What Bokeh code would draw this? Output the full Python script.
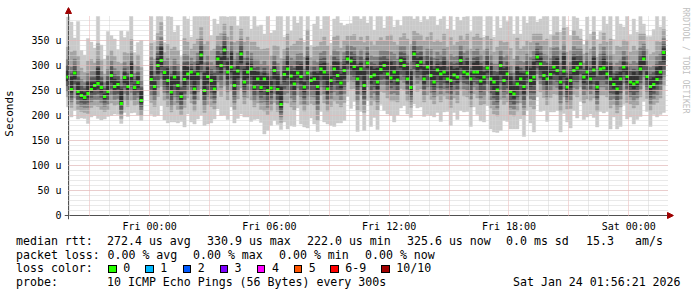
import math
from datetime import datetime, timedelta
from bokeh.plotting import figure
from bokeh.models import (Range1d, FixedTicker, DatetimeTickFormatter, Arrow, NormalHead,
                          Span, Title, Div)
from bokeh.layouts import column
from bokeh.embed import file_html
from bokeh.resources import INLINE

NAN = float("nan")

# ---------------- data (microseconds), one value per 10-minute slot from Thu 19:50 ----------------
median = [277,252,285,248,240,236,244,252,260,264,
          256,238,248,280,258,262,224,276,258,280,
          256,266,230,NAN,NAN,272,258,300,310,286,
          270,247,277,260,238,272,283,287,253,283,
          321,250,278,270,253,313,300,331,287,297,
          260,289,323,267,287,293,257,273,256,273,
          250,255,290,252,222,282,293,279,263,285,
          278,257,285,270,273,258,293,287,253,270,
          293,280,265,290,313,309,298,273,293,260,
          305,278,281,267,292,300,283,275,287,271,
          310,300,273,256,323,300,307,273,297,280,
          267,291,283,287,273,270,281,277,310,287,
          283,273,287,287,269,277,295,273,267,251,
          300,270,283,248,243,263,273,258,285,270,
          277,317,303,280,273,282,297,290,267,289,
          257,270,290,295,303,277,287,273,291,257,
          293,295,283,273,262,253,273,297,278,267,
          263,267,293,313,278,258,262,272,287,326]

# smoke: distance of the sorted pings above / below the median
up1 = [120,135,70,140,90,85,110,95,75,150, 85,75,120,80,95,70,145,80,110,130,
       70,80,120,0,0,130,90,100,110,60, 130,150,90,120,80,140,110,70,150,120,
       80,150,125,90,140,70,100,80,110,130, 150,90,80,140,120,80,150,105,125,90,
       150,110,80,150,180,75,120,90,140,100, 130,90,150,70,110,145,80,120,150,75,
       100,140,120,90,70,75,110,130,100,150, 80,120,90,140,110,75,130,150,90,120,
       70,110,145,150,70,100,80,130,95,150, 140,90,110,130,100,150,90,120,80,110,
       140,95,120,130,150,80,110,140,90,150, 75,130,105,150,120,160,90,140,100,130,
       150,70,90,120,140,80,110,130,100,150, 120,90,140,100,70,65,110,90,130,95,
       75,120,100,140,90,150,110,80,120,95, 130,100,120,70,80,100,110,130,90,100]
dn1 = [60,55,75,55,45,42,60,55,60,70, 65,45,50,80,55,60,40,70,60,75,
       50,65,40,0,0,70,60,100,90,95, 85,60,90,75,50,95,80,100,70,90,
       120,70,95,85,60,100,100,130,95,80, 75,95,120,70,90,105,65,80,70,110,
       80,75,100,70,50,95,120,100,85,70, 95,80,110,75,90,90,85,100,70,90,
       115,95,80,100,75,95,70,105,85,90, 75,100,85,95,70,90,80,75,100,70,
       95,80,70,60,100,85,90,75,95,80, 70,85,95,80,65,90,75,85,100,80,
       75,95,70,85,80,90,75,100,100,85, 130,80,95,75,70,90,80,100,75,85,
       110,80,95,70,85,75,90,80,100,85, 70,95,80,100,75,85,90,70,95,80,
       85,90,75,100,65,80,95,75,85,70, 80,75,95,85,70,80,60,75,85,120]
up2 = [60,75,45,70,55,50,65,60,45,80, 55,45,72,50,60,45,80,50,66,72,
       45,55,66,0,0,72,55,64,76,40, 72,86,60,70,50,82,64,46,90,70,
       55,92,70,60,80,46,64,52,70,82, 86,60,50,80,70,54,90,64,76,60,
       84,64,50,86,92,50,70,60,80,64, 76,60,86,46,64,80,54,70,86,50,
       64,80,70,60,46,50,64,76,64,86, 54,70,60,82,64,50,76,86,60,70,
       46,64,80,86,46,64,54,76,60,86, 80,60,64,76,64,86,60,70,50,64,
       80,60,70,76,86,54,64,80,60,86, 50,76,64,86,70,92,60,80,64,76,
       86,46,60,70,80,54,64,76,64,86, 70,60,80,64,50,46,64,60,76,60,
       50,70,64,80,60,86,64,54,70,60, 76,64,70,50,54,64,64,76,60,46]
dn2 = [40,36,50,36,32,30,40,36,40,46, 44,30,36,55,38,40,30,46,40,50,
       36,44,30,0,0,46,40,62,52,56, 52,40,56,48,36,56,48,62,44,52,
       68,44,56,52,40,64,62,72,56,48, 48,56,68,44,52,62,40,48,44,64,
       48,46,64,44,36,56,68,62,52,44, 56,48,64,46,52,68,52,62,44,52,
       64,56,48,64,46,56,44,62,52,54, 48,58,52,56,44,54,48,46,58,44,
       56,48,44,40,62,52,54,46,56,48, 44,52,56,48,40,54,46,52,58,48,
       46,56,44,52,48,54,46,58,64,52, 68,48,56,46,44,54,48,58,46,52,
       64,48,56,44,52,46,54,48,58,52, 44,56,48,58,46,52,54,44,56,48,
       52,54,46,58,40,48,56,46,52,44, 48,46,56,52,44,48,40,46,52,66]
up3 = [35,45,28,42,32,30,40,36,28,48, 32,28,44,30,36,28,48,30,40,44,
       28,32,40,0,0,44,32,38,46,24, 44,52,36,42,30,50,38,28,54,42,
       32,56,42,36,48,28,38,32,42,50, 52,36,30,48,42,32,54,38,46,36,
       50,38,30,52,56,30,42,36,48,38, 46,36,52,28,38,48,32,42,52,30,
       38,48,42,36,28,30,38,46,38,52, 32,42,36,50,38,30,46,52,36,42,
       28,38,48,52,28,38,32,46,36,52, 48,36,38,46,38,52,36,42,30,38,
       48,36,42,46,52,32,38,48,36,52, 30,46,38,52,42,56,36,48,38,46,
       52,28,36,42,48,32,38,46,38,52, 42,36,48,38,30,28,38,36,46,36,
       30,42,38,48,36,52,38,32,42,36, 46,38,42,30,32,38,38,46,36,28]
dn3 = [28,25,34,25,22,20,28,25,28,32, 30,20,25,38,26,28,20,32,28,34,
       25,30,20,0,0,32,28,44,36,40, 36,28,40,34,25,40,34,44,30,36,
       48,30,40,36,28,46,44,50,40,34, 34,40,48,30,36,44,28,34,30,46,
       34,32,46,30,25,40,48,44,36,30, 40,34,46,32,36,48,36,44,30,36,
       46,40,34,46,32,40,30,44,36,38, 34,42,36,40,30,38,34,32,42,30,
       40,34,30,28,44,36,38,32,40,34, 30,36,40,34,28,38,32,36,42,34,
       32,40,30,36,34,38,32,42,46,36, 48,34,40,32,30,38,34,42,32,36,
       46,34,40,30,36,32,38,34,42,36, 30,40,34,42,32,36,38,30,40,34,
       36,38,32,42,28,34,40,32,36,30, 34,32,40,36,30,34,28,32,36,48]
up4 = [22,32,16,28,20,18,26,24,16,34, 20,16,30,18,24,16,34,18,26,30,
       16,20,26,0,0,30,20,24,32,12, 30,36,22,28,18,34,24,16,38,28,
       20,40,28,22,32,16,24,20,28,34, 36,22,18,32,28,20,38,24,30,22,
       34,24,18,36,40,18,28,22,32,24, 30,22,36,16,24,32,20,28,36,18,
       24,32,28,22,16,18,24,30,24,36, 20,28,22,34,24,18,30,36,22,28,
       16,24,32,36,16,24,20,30,22,36, 32,22,24,30,24,36,22,28,18,24,
       32,22,28,30,36,20,24,32,22,36, 18,30,24,36,28,38,22,32,24,30,
       36,16,22,28,32,20,24,30,24,36, 28,22,32,24,18,16,24,22,30,22,
       18,28,24,32,22,36,24,20,28,22, 30,24,28,18,20,24,24,30,22,16]
dn4 = [18,16,22,16,14,12,18,16,18,20, 20,12,16,26,16,18,12,20,18,22,
       16,20,12,0,0,20,18,30,24,28, 24,18,28,22,16,28,22,30,20,24,
       34,20,28,24,18,32,30,35,28,22, 22,28,34,20,24,30,18,22,20,32,
       22,20,32,20,16,28,34,30,24,20, 28,22,32,20,24,34,24,30,20,24,
       32,28,22,32,20,28,20,30,24,26, 22,28,24,28,20,26,22,20,28,20,
       28,22,20,18,30,24,26,20,28,22, 20,24,28,22,18,26,20,24,28,22,
       20,28,20,24,22,26,20,28,32,24, 34,22,28,20,20,26,22,28,20,24,
       32,22,28,20,24,20,26,22,28,24, 20,28,22,28,20,24,26,20,28,22,
       24,26,20,28,18,22,28,20,24,20, 22,20,28,24,20,22,18,20,24,34]
up5 = [12,25,6,18,8,10,22,14,6,30, 10,5,20,8,15,6,28,10,18,24,
       6,12,20,0,0,18,10,14,26,5, 24,30,12,18,8,28,14,6,32,20,
       8,35,18,12,26,6,16,10,20,28, 30,12,8,26,18,10,32,14,24,12,
       28,14,8,30,35,8,18,12,26,14, 24,10,30,6,14,26,10,18,30,8,
       14,26,18,12,6,8,14,24,12,30, 10,20,12,28,14,8,24,32,12,18,
       6,14,26,32,6,14,10,24,12,30, 26,12,14,24,14,30,12,18,8,14,
       26,12,18,24,30,10,14,26,12,30, 8,24,14,30,18,34,12,26,14,24,
       30,6,12,18,26,10,14,24,14,30, 18,12,26,14,8,6,14,12,24,12,
       8,18,14,26,12,30,14,10,18,12, 24,14,18,8,10,14,14,24,12,8]
dn5 = [8,6,12,7,5,5,8,6,9,10, 10,5,7,14,8,9,5,11,8,12,
       6,10,5,0,0,10,8,16,12,14, 12,8,14,11,6,14,10,16,9,12,
       18,9,14,12,7,16,15,20,14,10, 10,14,18,9,12,15,8,10,9,16,
       10,9,16,9,6,14,18,15,12,9, 14,10,16,9,12,18,12,15,9,12,
       16,14,10,16,9,14,9,15,12,13, 10,14,12,14,9,13,10,9,14,9,
       14,10,9,8,15,12,13,9,14,10, 9,12,14,10,8,13,9,12,14,10,
       9,14,9,12,10,13,9,14,16,12, 18,10,14,9,9,13,10,14,9,12,
       16,10,14,9,12,9,13,10,14,12, 9,14,10,14,9,12,13,9,14,10,
       12,13,9,14,8,10,14,9,12,9, 10,9,14,12,9,10,8,9,12,18]

y_max = 398
y_ticks = [0, 50, 100, 150, 200, 250, 300, 350]
y_tick_labels = ["0", "50 u", "100 u", "150 u", "200 u", "250 u", "300 u", "350 u"]

rtt_stats = ["272.4 us avg", "330.9 us max", "222.0 us min", "325.6 us now", "0.0 ms sd", "15.3", "am/s"]
loss_stats = ["0.00 % avg", "0.00 % max", "0.00 % min", "0.00 % now"]
loss_labels = ["0", "1", "2", "3", "4", "5", "6-9", "10/10"]
loss_colors = ["#26ff00", "#00b8ff", "#0059ff", "#7e00ff", "#ff00ff", "#ff5500", "#ff0000", "#a10000"]
probe_text = "10 ICMP Echo Pings (56 Bytes) every 300s"
stamp_text = "Sat Jan 24 01:56:21 2026"
watermark = "RRDTOOL / TOBI OETIKER"

smoke_colors = ["#cacaca", "#a4a4a4", "#7e7e7e", "#585858", "#323232"]

# ---------------- geometry / time ----------------
t_first = datetime(2026, 1, 22, 19, 50)
step = timedelta(minutes=10)
t_start = datetime(2026, 1, 22, 19, 56, 21)
t_end = datetime(2026, 1, 24, 1, 56, 21)
EPOCH = datetime(1970, 1, 1)


def ms(d):
    return (d - EPOCH).total_seconds() * 1000.0


n = len(median)
left = [t_first + i * step for i in range(n)]
right = [t + step for t in left]

FONT = "DejaVu Sans Mono"
AXIS = "#505050"
ARROW = "#a00000"

p = figure(width=697, height=235, x_axis_type="datetime",
           x_range=Range1d(t_start - timedelta(minutes=12), t_end + timedelta(minutes=18)),
           y_range=Range1d(-8, 416),
           output_backend="svg", toolbar_location=None,
           min_border_left=63, min_border_right=24, min_border_top=7, min_border_bottom=16)
p.outline_line_color = None
p.background_fill_color = "white"
p.border_fill_color = "white"

bands = [(up1, dn1), (up2, dn2), (up3, dn3), (up4, dn4), (up5, dn5)]
for (up, dn), col in zip(bands, smoke_colors):
    top = [min(m + u, y_max) for m, u in zip(median, up)]
    bot = [m - d for m, d in zip(median, dn)]
    p.quad(left=left, right=right, bottom=bot, top=top,
           fill_color=col, line_color=col, line_width=0.4)

p.quad(left=left, right=right,
       bottom=[m - 3 for m in median], top=[m + 3 for m in median],
       fill_color=loss_colors[0], line_color=None)

# grids
hours = []
h = datetime(2026, 1, 22, 20)
while h <= t_end:
    hours.append(h)
    h += timedelta(hours=1)
major_grid = [ms(x) for x in hours if x.hour % 3 == 0]
minor_grid = [ms(x) for x in hours if x.hour % 3 != 0]
six_h = [ms(x) for x in hours if x.hour % 6 == 0]

p.xgrid.ticker = FixedTicker(ticks=major_grid, minor_ticks=minor_grid)
p.ygrid.ticker = FixedTicker(ticks=list(range(50, 400, 50)), minor_ticks=list(range(10, 400, 10)))
for g in (p.xgrid, p.ygrid):
    g.grid_line_color = "#eab0b0"
    g.grid_line_dash = "1 1"
    g.grid_line_width = 1
    g.minor_grid_line_color = "#d2d2d2"
    g.minor_grid_line_dash = "1 1"
    g.minor_grid_line_width = 1
    g.level = "overlay"
try:
    p.xgrid.cross_bounds = (0, y_max)
    p.ygrid.cross_bounds = (ms(t_start), ms(t_end))
except Exception:
    pass

xa = p.xaxis[0]
xa.ticker = FixedTicker(ticks=six_h, minor_ticks=major_grid)
xa.formatter = DatetimeTickFormatter(hours="%a %H:%M", days="%a %H:%M", hourmin="%a %H:%M",
                                     minutes="%a %H:%M", months="%a %H:%M")
ya = p.yaxis[0]
ya.ticker = FixedTicker(ticks=y_ticks)
ya.major_label_overrides = {t: s for t, s in zip(y_ticks, y_tick_labels)}
ya.axis_label = "Seconds"
ya.axis_label_text_font = FONT
ya.axis_label_text_font_size = "11px"
ya.axis_label_text_font_style = "normal"
ya.axis_label_text_color = "black"
ya.axis_label_standoff = 12
for ax in (xa, ya):
    ax.axis_line_color = None
    ax.major_tick_line_color = None
    ax.minor_tick_line_color = None
    ax.major_tick_in = 0
    ax.major_tick_out = 0
    ax.minor_tick_in = 0
    ax.minor_tick_out = 0
    ax.major_label_text_font = FONT
    ax.major_label_text_font_size = "10px"
    ax.major_label_text_color = "black"
ya.major_label_standoff = 3
xa.major_label_standoff = 1

p.add_layout(Span(location=ms(t_start), dimension="height", line_color=AXIS, line_width=1))
p.add_layout(Span(location=0, dimension="width", line_color=AXIS, line_width=1))

p.add_layout(Arrow(end=NormalHead(size=6, fill_color=ARROW, line_color=ARROW),
                   x_start=ms(t_start), y_start=y_max, x_end=ms(t_start), y_end=416,
                   line_color=AXIS, line_width=1))
p.add_layout(Arrow(end=NormalHead(size=6, fill_color=ARROW, line_color=ARROW),
                   x_start=ms(t_end), y_start=0, x_end=ms(t_end + timedelta(minutes=18)), y_end=0,
                   line_color=AXIS, line_width=1))

p.add_layout(Title(text=watermark, align="left", vertical_align="middle", text_font=FONT,
                   text_font_size="8px", text_color="#c0c0c0", text_font_style="normal",
                   standoff=12), "right")

# ---------------- legend panel (text block under the chart) ----------------
rtt_x = [107, 207, 307, 407, 506, 586, 635]
loss_x = [107.5, 193, 279, 365]
sq_x = [108.3, 145.3, 182.7, 219.6, 256.9, 293.8, 330.2, 381.3]
FS = 11.6
base = [10.5, 24.5, 38, 52]          # baselines inside the 62 px legend block
ASC = 0.846 * FS                     # baseline offset inside a line box of line-height 1


def span(x, b, txt):
    return ('<span style="position:absolute;left:%.1fpx;top:%.1fpx;white-space:pre;'
            'line-height:1;">%s</span>' % (x, b - ASC, txt))


items = [span(16, base[0], "median rtt:")]
items += [span(x, base[0], s) for x, s in zip(rtt_x, rtt_stats)]
items += [span(16, base[1], "packet loss:")]
items += [span(x, base[1], s) for x, s in zip(loss_x, loss_stats)]
items += [span(16, base[2], "loss color:")]
for x, lab, col in zip(sq_x, loss_labels, loss_colors):
    items.append('<span style="position:absolute;left:%.1fpx;top:29.8px;width:8.4px;height:8.4px;'
                 'box-sizing:border-box;border:1px solid #000;background:%s;"></span>' % (x, col))
    items.append(span(x + 15, base[2], lab))
items += [span(16, base[3], "probe:"), span(107, base[3], probe_text), span(513, base[3], stamp_text)]

html = ('<div style="position:relative;width:697px;height:62px;overflow:hidden;'
        'font-family:\'DejaVu Sans Mono\',monospace;font-size:%.1fpx;color:#000;background:#fff;">'
        % FS) + "".join(items) + "</div>"

legend = Div(text=html, width=697, height=62, margin=(0, 0, 0, 0))

layout = column(p, legend, spacing=0)
open("out.html", "w").write(file_html(layout, INLINE))
